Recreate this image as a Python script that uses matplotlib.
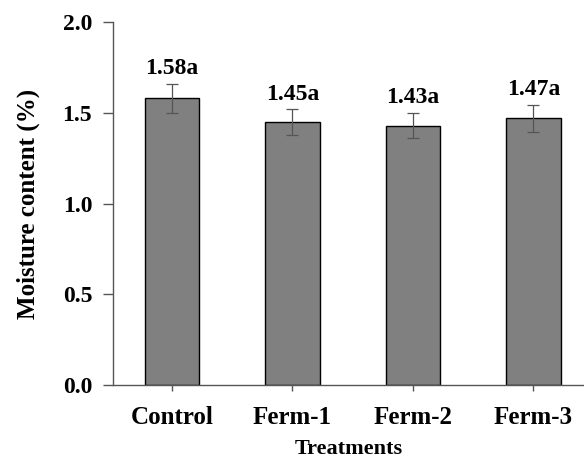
import matplotlib
matplotlib.use("Agg")
import matplotlib.pyplot as plt
import numpy as np

categories = ["Control", "Ferm-1", "Ferm-2", "Ferm-3"]
values = [1.58, 1.45, 1.43, 1.47]
errors = [0.08, 0.07, 0.07, 0.075]
labels = ["1.58a", "1.45a", "1.43a", "1.47a"]
yticks = [0.0, 0.5, 1.0, 1.5, 2.0]

plt.rcParams['font.family'] = ['Liberation Serif', 'DejaVu Serif']
plt.rcParams['font.weight'] = 'bold'

fig = plt.figure(figsize=(5.84, 4.62), dpi=100)
ax = fig.add_axes([0.1935, 0.1667, 0.8065, 0.7853])

x = np.arange(len(categories))
ax.bar(x, values, width=0.45, color="#808080", edgecolor="black", linewidth=1.0, zorder=2)
ax.errorbar(x, values, yerr=errors, fmt="none", ecolor="#555555", elinewidth=0.9,
            capsize=4, capthick=0.9, zorder=3)
for xi, v, e, lab in zip(x, values, errors, labels):
    ax.text(xi, v + e + 0.025, lab, ha="center", va="bottom", fontsize=17, fontweight="bold")

ax.set_xlim(-0.49, 3.42)
ax.set_ylim(0, 2.0)
ax.set_yticks(yticks)
ax.set_yticklabels([f"{t:.1f}" for t in yticks], fontsize=17, fontweight="bold")
ax.set_xticks(x)
ax.set_xticklabels(categories, fontsize=18, fontweight="bold")
ax.set_xlabel("Treatments", fontsize=16, fontweight="bold", labelpad=7)
ax.set_ylabel("Moisture content (%)", fontsize=18, fontweight="bold", labelpad=16)

for s in ["top", "right"]:
    ax.spines[s].set_visible(False)
for s in ["left", "bottom"]:
    ax.spines[s].set_color("#555555")
    ax.spines[s].set_linewidth(1.0)
ax.tick_params(axis="y", direction="out", length=7, width=1.0, color="#555555", pad=8)
ax.tick_params(axis="x", direction="out", length=4, width=1.0, color="#555555", pad=11)

fig.savefig("out.png", dpi=100)
